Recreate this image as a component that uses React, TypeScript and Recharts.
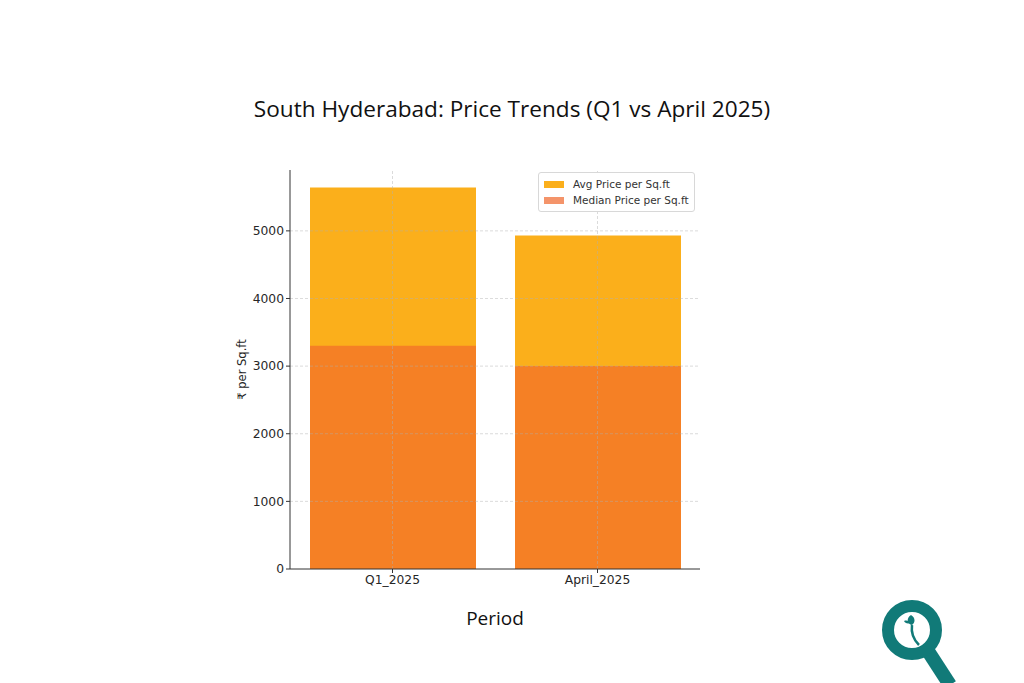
import { Bar, BarChart, Label, Legend, ReferenceLine, XAxis, YAxis } from "recharts";

const periods = ["Q1_2025", "April_2025"];
const avgPrice = [5640, 4930];
const medianPrice = [3300, 3000];
const yTicks = [0, 1000, 2000, 3000, 4000, 5000];

const AVG = "#fbaf1b";
const MEDIAN = "#f58025";
const MEDIAN_LEGEND = "#f4946a";
const tickFont = { fontFamily: "DejaVu Sans", fontSize: 12.3, fill: "#262626" };

const data = periods.map((p, i) => ({ period: p, avg: avgPrice[i], median: medianPrice[i] }));

function LegendBox() {
  const items = [
    { label: "Avg Price per Sq.ft", color: AVG },
    { label: "Median Price per Sq.ft", color: MEDIAN_LEGEND }
  ];
  return (
    <div
      style={{
        border: "1px solid #d8d8d8",
        borderRadius: 3,
        background: "#fff",
        padding: "3px 5px 3px 5px",
        fontFamily: "DejaVu Sans",
        fontSize: 10.5,
        color: "#333",
        lineHeight: "16px"
      }}
    >
      {items.map((it) => (
        <div key={it.label} style={{ display: "flex", alignItems: "center" }}>
          <span style={{ display: "inline-block", width: 20, height: 7, background: it.color, marginRight: 9 }} />
          {it.label}
        </div>
      ))}
    </div>
  );
}

function Logo() {
  return (
    <svg width={110} height={100} style={{ position: "absolute", left: 860, top: 590 }}>
      <line x1={66} y1={58} x2={90} y2={95} stroke="#117a78" strokeWidth={14} />
      <circle cx={52} cy={40} r={24} fill="none" stroke="#117a78" strokeWidth={12} />
      <path d="M51 25 C46 28 47 34 52 35 C55 33 56 28 51 25 Z" fill="#117a78" />
      <path d="M52 35 C51 42 53 49 59 55" fill="none" stroke="#117a78" strokeWidth={2.5} />
      <path d="M51 33 C47 34 45 33 44 31 C47 30 49 31 51 33 Z" fill="#117a78" />
    </svg>
  );
}

export default function App() {
  return (
    <div style={{ position: "absolute", left: 0, top: 0, width: 1024, height: 683, background: "#fff" }}>
      <div
        style={{
          position: "absolute",
          top: 93,
          left: 0,
          width: 1024,
          textAlign: "center",
          fontFamily: "Open Sans",
          fontSize: 22.6,
          color: "#111"
        }}
      >
        South Hyderabad: Price Trends (Q1 vs April 2025)
      </div>
      <BarChart
        width={1024}
        height={683}
        data={data}
        margin={{ top: 170, right: 324, bottom: 84, left: 230 }}
        style={{ position: "absolute", left: 0, top: 0 }}
      >
        <XAxis
          xAxisId="avg"
          dataKey="period"
          height={30}
          tick={tickFont}
          tickSize={4}
          tickLine={{ stroke: "#333" }}
          axisLine={{ stroke: "#333" }}
        />
        <XAxis xAxisId="med" dataKey="period" hide />
        <YAxis
          domain={[0, 5900]}
          ticks={yTicks}
          width={60}
          tick={tickFont}
          tickSize={4}
          tickLine={{ stroke: "#333" }}
          axisLine={{ stroke: "#333" }}
        >
          <Label
            value="₹ per Sq.ft"
            angle={-90}
            position="insideLeft"
            offset={12}
            fill="#262626"
            style={{ fontFamily: "DejaVu Sans", fontSize: 11.5, fill: "#262626", textAnchor: "middle" }}
          />
        </YAxis>
        <Bar xAxisId="avg" dataKey="avg" name="Avg Price per Sq.ft" fill={AVG} barSize={166} isAnimationActive={false} />
        <Bar xAxisId="med" dataKey="median" name="Median Price per Sq.ft" fill={MEDIAN} barSize={166} isAnimationActive={false} />
        {yTicks.slice(1).map((t) => (
          <ReferenceLine key={t} xAxisId="avg" y={t} stroke="#b0b0b0" strokeOpacity={0.45} strokeDasharray="3 2" />
        ))}
        {periods.map((p) => (
          <ReferenceLine key={p} xAxisId="avg" x={p} stroke="#b0b0b0" strokeOpacity={0.45} strokeDasharray="3 2" />
        ))}
        <Legend
          layout="vertical"
          align="center"
          verticalAlign="middle"
          content={() => <LegendBox />}
          wrapperStyle={{ left: 538, top: 172, width: "auto" }}
        />
      </BarChart>
      <div
        style={{
          position: "absolute",
          top: 605,
          left: 290,
          width: 410,
          textAlign: "center",
          fontFamily: "Open Sans",
          fontSize: 19,
          color: "#111"
        }}
      >
        Period
      </div>
      <Logo />
    </div>
  );
}
